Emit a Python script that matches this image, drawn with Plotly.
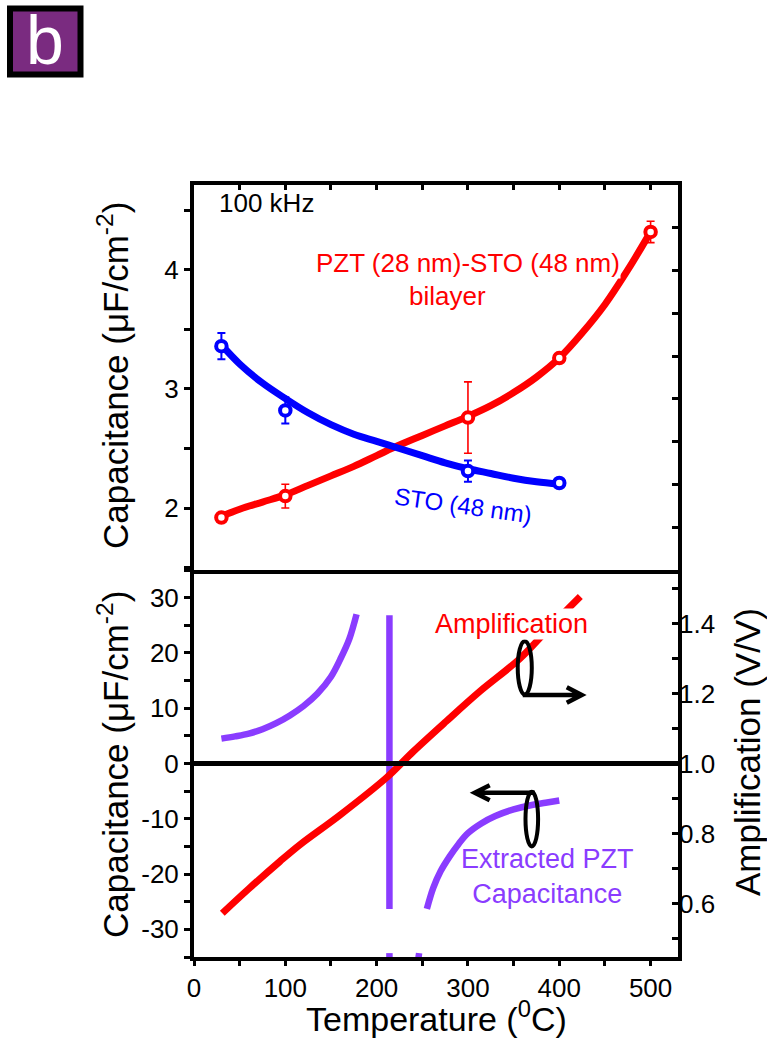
import plotly.graph_objects as go

# ---------------- data ----------------
# top panel: measured capacitance (uF/cm^2) vs temperature (C)
bilayer_t = [30, 100, 300, 400, 500]
bilayer_cap = [1.92, 2.10, 2.76, 3.26, 4.32]
bilayer_err = [0.0, 0.10, 0.30, 0.0, 0.09]

sto_t = [30, 100, 300, 400]
sto_cap = [3.36, 2.82, 2.31, 2.21]
sto_err = [0.11, 0.11, 0.09, 0.0]

bilayer_fit_t = [30, 50, 75, 100, 125, 150, 175, 200, 225, 250, 275, 300, 325, 350, 375, 400, 425, 450, 475, 500]
bilayer_fit = [1.93, 1.99, 2.05, 2.11, 2.19, 2.27, 2.35, 2.44, 2.53, 2.61, 2.69, 2.77, 2.86, 2.97, 3.10, 3.26, 3.47, 3.71, 4.00, 4.32]

sto_fit_t = [30, 50, 75, 100, 125, 150, 175, 200, 225, 250, 275, 300, 325, 350, 375, 400]
sto_fit = [3.37, 3.21, 3.05, 2.92, 2.80, 2.70, 2.62, 2.56, 2.50, 2.44, 2.38, 2.33, 2.29, 2.25, 2.22, 2.20]

# bottom panel: extracted PZT capacitance (left axis)
pzt_t_low = [30, 45, 60, 75, 90, 105, 120, 135, 150, 160, 170, 178]
pzt_cap_low = [4.5, 4.9, 5.4, 6.2, 7.3, 8.7, 10.4, 12.6, 15.7, 18.8, 22.5, 27.0]
pole_t = [214, 214]
pole_cap = [26.8, -26.3]
pzt_t_high = [255, 262, 270, 280, 290, 300, 315, 330, 350, 370, 385, 400]
pzt_cap_high = [-26.3, -22.5, -19.5, -16.8, -14.5, -12.6, -10.8, -9.5, -8.3, -7.5, -7.1, -6.7]
tail_t = [214, 214, None, 246.5, 245.5]
tail_cap = [-34.3, -35.6, None, -34.3, -35.6]

# bottom panel: amplification (right axis)
amp_t = [31, 60, 94, 116, 160, 211, 240, 276, 313, 357, 390, 423]
amp = [0.572, 0.642, 0.72, 0.768, 0.853, 0.96, 1.034, 1.12, 1.206, 1.30, 1.39, 1.477]

# axis ticks
x_ticks = [0, 100, 200, 300, 400, 500]
top_y_ticks = [2, 3, 4]
cap_ticks = [30, 20, 10, 0, -10, -20, -30]
cap_ticktext = ["30", "20", "10", "0", "-10", "-20", "-30"]
amp_ticks = [0.6, 0.8, 1.0, 1.2, 1.4]
amp_ticktext = ["0.6", "0.8", "1.0", "1.2", "1.4"]

# ---------------- styling ----------------
RED = "#ff0000"
BLUE = "#0000ff"
PURPLE = "#8a3cff"
FONT = "Arial, Liberation Sans, sans-serif"
TICKF = dict(family=FONT, size=26, color="black")
LW = 4

fig = go.Figure()

# top panel
fig.add_trace(go.Scatter(x=bilayer_fit_t, y=bilayer_fit, mode="lines",
                         line=dict(color=RED, width=7, shape="spline"),
                         xaxis="x2", yaxis="y3", showlegend=False, hoverinfo="skip"))
fig.add_trace(go.Scatter(x=sto_fit_t, y=sto_fit, mode="lines",
                         line=dict(color=BLUE, width=7, shape="spline"),
                         xaxis="x2", yaxis="y3", showlegend=False, hoverinfo="skip"))
fig.add_trace(go.Scatter(x=bilayer_t, y=bilayer_cap, mode="markers",
                         marker=dict(symbol="circle", size=10.5, color="white",
                                     line=dict(color=RED, width=4)),
                         error_y=dict(type="data", array=bilayer_err, color=RED,
                                      thickness=1.6, width=4),
                         xaxis="x2", yaxis="y3", showlegend=False))
fig.add_trace(go.Scatter(x=sto_t, y=sto_cap, mode="markers",
                         marker=dict(symbol="circle", size=10.5, color="white",
                                     line=dict(color=BLUE, width=4)),
                         error_y=dict(type="data", array=sto_err, color=BLUE,
                                      thickness=2, width=4),
                         xaxis="x2", yaxis="y3", showlegend=False))
# dummy for right-side tick axis of top panel
fig.add_trace(go.Scatter(x=[None], y=[None], xaxis="x2", yaxis="y4", showlegend=False))

# bottom panel
fig.add_trace(go.Scatter(x=amp_t, y=amp, mode="lines",
                         line=dict(color=RED, width=7, shape="spline"),
                         xaxis="x", yaxis="y2", showlegend=False, hoverinfo="skip"))
for xs, ys in [(pzt_t_low, pzt_cap_low), (pole_t, pole_cap),
               (pzt_t_high, pzt_cap_high), (tail_t, tail_cap)]:
    fig.add_trace(go.Scatter(x=xs, y=ys, mode="lines",
                             line=dict(color=PURPLE, width=6.5, shape="spline"),
                             xaxis="x", yaxis="y", showlegend=False, hoverinfo="skip"))
fig.add_trace(go.Scatter(x=[None], y=[None], xaxis="x3", yaxis="y", showlegend=False))

SPLIT = 387 / 772

common = dict(showgrid=False, zeroline=False, linecolor="black", linewidth=LW,
              tickcolor="black", tickwidth=3, tickfont=TICKF)

fig.update_layout(
    width=767, height=1038,
    margin=dict(l=194, r=89, t=185, b=81),
    paper_bgcolor="white", plot_bgcolor="white",
    font=dict(family=FONT, color="black"),
    showlegend=False,
    xaxis=dict(**common, domain=[0, 1], range=[0, 530], anchor="y",
               showline=True, mirror=False, ticks="outside", ticklen=5,
               tickvals=x_ticks, minor=dict(dtick=50, tick0=0, ticks="outside",
                                            ticklen=5, tickwidth=3, tickcolor="black")),
    xaxis2=dict(**common, domain=[0, 1], range=[0, 530], anchor="y3", side="top",
                showline=True, mirror=True, ticks="inside", ticklen=5,
                dtick=50, tick0=0, showticklabels=False),
    xaxis3=dict(**common, overlaying="x", range=[0, 5], anchor="y", side="top",
                showline=False, ticks="inside", ticklen=4, dtick=1, tick0=0,
                showticklabels=False),
    yaxis=dict(**common, domain=[0, SPLIT], range=[-35, 35], anchor="x",
               showline=True, mirror=True, ticks="outside", ticklen=6,
               tickvals=cap_ticks, ticktext=cap_ticktext,
               minor=dict(dtick=5, tick0=0, ticks="outside", ticklen=6,
                          tickwidth=3, tickcolor="black")),
    yaxis2=dict(**common, overlaying="y", side="right", range=[0.447, 1.553], anchor="x",
                showline=False, ticks="inside", ticklen=6,
                tickvals=amp_ticks, ticktext=amp_ticktext,
                minor=dict(dtick=0.1, tick0=0, ticks="inside", ticklen=6,
                           tickwidth=3, tickcolor="black")),
    yaxis3=dict(**common, domain=[SPLIT, 1], range=[1.479, 4.714], anchor="x2",
                showline=True, mirror=True, ticks="outside", ticklen=6,
                tickvals=top_y_ticks,
                minor=dict(dtick=0.5, tick0=0, ticks="outside", ticklen=6,
                           tickwidth=3, tickcolor="black")),
    yaxis4=dict(**common, overlaying="y3", side="right", range=[0, 9], anchor="x2",
                showline=False, ticks="inside", ticklen=6, dtick=1, tick0=0,
                showticklabels=False),
)

# zero line across the bottom panel
fig.add_shape(type="line", xref="paper", yref="y", x0=0, x1=1, y0=0, y1=0,
              line=dict(color="black", width=5), layer="above")

# ellipse + arrow markers
fig.add_shape(type="circle", xref="x", yref="y", x0=354.5, x1=369.9, y0=12.5, y1=22.1,
              line=dict(color="black", width=4))
fig.add_shape(type="path", xref="x", yref="y",
              path="M 360,12.4 L 424.6,12.4 M 408.2,13.8 L 424.6,12.4 L 408.2,11.0",
              line=dict(color="black", width=4.5))
fig.add_shape(type="circle", xref="x", yref="y", x0=363.0, x1=376.8, y0=-15.0, y1=-5.1,
              line=dict(color="black", width=4))
fig.add_shape(type="path", xref="x", yref="y",
              path="M 373.2,-5.3 L 307.4,-5.3 M 323.8,-3.94 L 307.4,-5.3 L 323.8,-6.66",
              line=dict(color="black", width=4.5))

# panel label "b"
fig.add_shape(type="rect", xref="paper", yref="paper",
              x0=(10 - 194) / 484, x1=(80.5 - 194) / 484,
              y0=(957 - 74.5) / 772, y1=(957 - 8.5) / 772,
              fillcolor="#7a2b80", line=dict(color="black", width=6))
fig.add_annotation(xref="paper", yref="paper", x=(45 - 194) / 484, y=(957 - 40) / 772,
                   text="b", showarrow=False, font=dict(family=FONT, size=68, color="white"),
                   xanchor="center", yanchor="middle")

# text labels
def ann(x, y, text, color, size, xref="x2", yref="y3", **kw):
    fig.add_annotation(x=x, y=y, xref=xref, yref=yref, text=text, showarrow=False,
                       font=dict(family=FONT, size=size, color=color), **kw)

ann(24.9, 4.56, "100 kHz", "black", 26, xanchor="left", yanchor="middle")
ann(300, 4.06, "PZT (28 nm)-STO (48 nm)", RED, 26, bgcolor="white", borderpad=0)
ann(277.5, 3.78, "bilayer", RED, 26)
ann(295, 2.02, "STO (48 nm)", BLUE, 24, textangle=8)
ann(347.4, 25.3, "Amplification", RED, 27, xref="x", yref="y", bgcolor="white", borderpad=0)
ann(387.4, -20.5, "Extracted PZT<br>Capacitance", PURPLE, 27, xref="x", yref="y")

# axis titles
TF = dict(family=FONT, size=35, color="black")
fig.add_annotation(xref="paper", yref="paper", x=(113 - 194) / 484, y=(957 - 376) / 772,
                   text="Capacitance (\u03bcF/cm<sup>-2</sup>)", textangle=-90, showarrow=False,
                   font=TF, xanchor="center", yanchor="middle")
fig.add_annotation(xref="paper", yref="paper", x=(113 - 194) / 484, y=(957 - 765) / 772,
                   text="Capacitance (\u03bcF/cm<sup>-2</sup>)", textangle=-90, showarrow=False,
                   font=TF, xanchor="center", yanchor="middle")
fig.add_annotation(xref="paper", yref="paper", x=(747 - 194) / 484, y=(957 - 752) / 772,
                   text="Amplification (V/V)", textangle=-90, showarrow=False,
                   font=TF, xanchor="center", yanchor="middle")
fig.add_annotation(xref="paper", yref="paper", x=(436 - 194) / 484, y=(957 - 1016) / 772,
                   text="Temperature (<sup>0</sup>C)", showarrow=False,
                   font=dict(family=FONT, size=34, color="black"),
                   xanchor="center", yanchor="middle")

fig.write_html("out.html")
